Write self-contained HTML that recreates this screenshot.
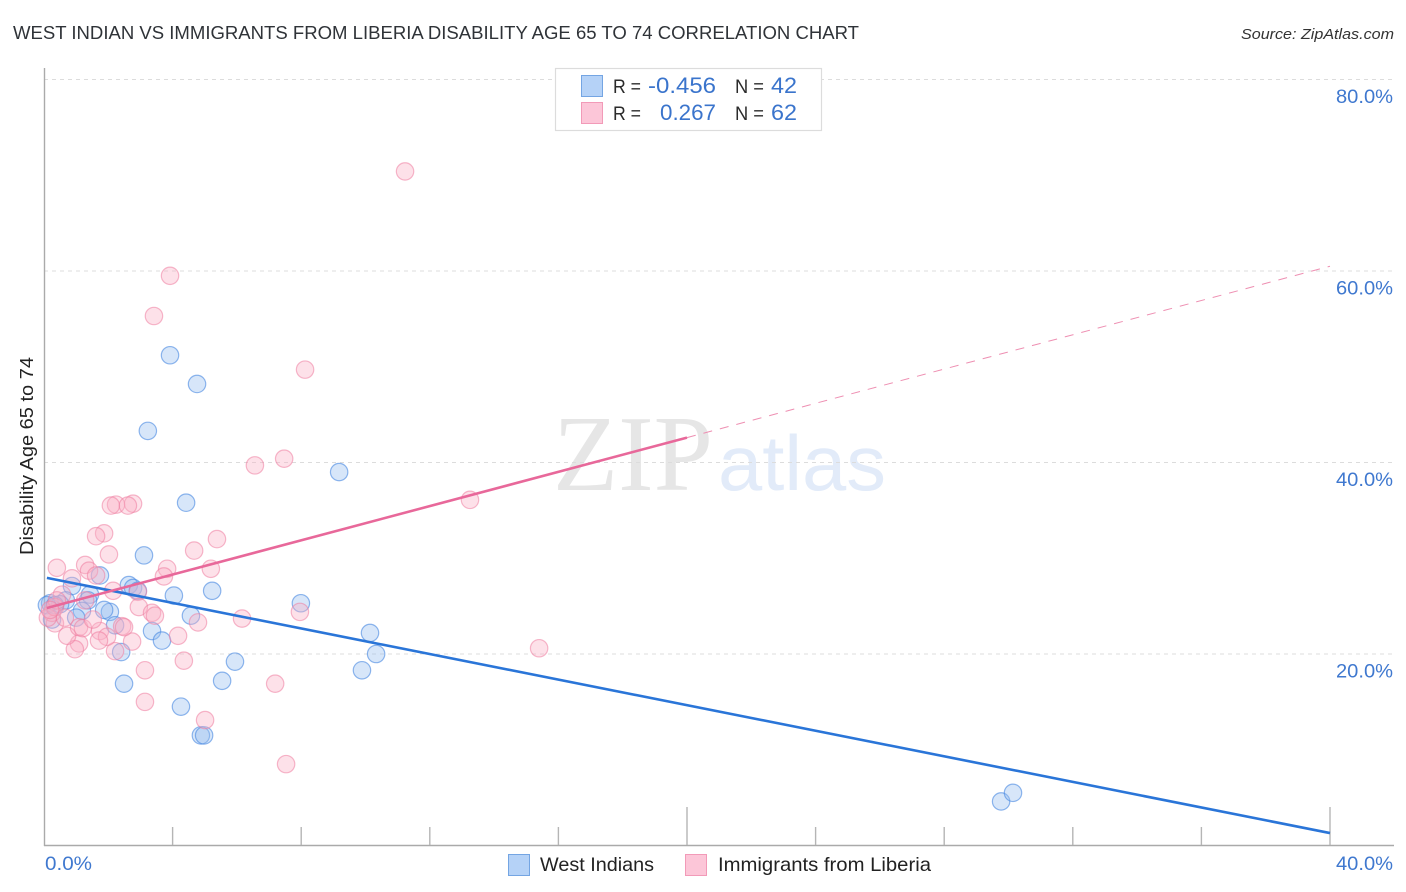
<!DOCTYPE html>
<html lang="en">
<head>
<meta charset="utf-8">
<title>West Indian vs Immigrants from Liberia Disability Age 65 to 74 Correlation Chart</title>
<style>
html,body{margin:0;padding:0;background:#fff;width:1406px;height:892px;overflow:hidden}
svg{display:block;font-family:"Liberation Sans",sans-serif}
</style>
</head>
<body>
<svg id="chart" xmlns="http://www.w3.org/2000/svg" width="1406" height="892" viewBox="0 0 1406 892">
  <text x="553" y="490" font-family="Liberation Serif, serif" font-size="108" fill="#e6e6e6" textLength="160" lengthAdjust="spacingAndGlyphs">ZIP</text>
  <text x="718" y="490" font-size="78" fill="#e2ebf9" textLength="168" lengthAdjust="spacingAndGlyphs">atlas</text>
  <g id="grid"></g>
  <g id="axes"></g>
  <g id="blue-points"></g>
  <g id="pink-points"></g>
  <g id="trends"></g>
  <g id="labels"></g>

  <text x="13" y="39" font-size="18.5" fill="#2f3338" textLength="846" lengthAdjust="spacingAndGlyphs">WEST INDIAN VS IMMIGRANTS FROM LIBERIA DISABILITY AGE 65 TO 74 CORRELATION CHART</text>
  <text x="1241" y="39" font-size="15" font-style="italic" fill="#333" textLength="153" lengthAdjust="spacingAndGlyphs">Source: ZipAtlas.com</text>
  <text transform="translate(33 555) rotate(-90)" font-size="18" fill="#222" textLength="198" lengthAdjust="spacingAndGlyphs">Disability Age 65 to 74</text>

  <g>
    <rect x="555.5" y="68.5" width="266" height="62" fill="#fff" stroke="#dcdcdc" stroke-width="1.2"/>
    <rect x="581.5" y="75.5" width="21" height="21" fill="#b5d2f7" stroke="#74a5e3"/>
    <rect x="581.5" y="102.5" width="21" height="21" fill="#fcc6d8" stroke="#f29ab8"/>
    <text x="613" y="93" font-size="19" fill="#2b2b2b" textLength="28" lengthAdjust="spacingAndGlyphs">R =</text>
    <text x="648" y="93" font-size="22" fill="#3a74cc" textLength="68" lengthAdjust="spacingAndGlyphs">-0.456</text>
    <text x="735" y="93" font-size="19" fill="#2b2b2b" textLength="29" lengthAdjust="spacingAndGlyphs">N =</text>
    <text x="771" y="93" font-size="22" fill="#3a74cc" textLength="26" lengthAdjust="spacingAndGlyphs">42</text>
    <text x="613" y="120" font-size="19" fill="#2b2b2b" textLength="28" lengthAdjust="spacingAndGlyphs">R =</text>
    <text x="660" y="120" font-size="22" fill="#3a74cc" textLength="56" lengthAdjust="spacingAndGlyphs">0.267</text>
    <text x="735" y="120" font-size="19" fill="#2b2b2b" textLength="29" lengthAdjust="spacingAndGlyphs">N =</text>
    <text x="771" y="120" font-size="22" fill="#3a74cc" textLength="26" lengthAdjust="spacingAndGlyphs">62</text>
  </g>

  <g>
    <g>
      <rect x="508.5" y="854.5" width="21" height="21" fill="#b5d2f7" stroke="#74a5e3"/>
      <text x="540" y="871" font-size="19.5" fill="#222" textLength="114" lengthAdjust="spacingAndGlyphs">West Indians</text>
    </g>
    <g>
      <rect x="685.5" y="854.5" width="21" height="21" fill="#fcc6d8" stroke="#f29ab8"/>
      <text x="718" y="871" font-size="19.5" fill="#222" textLength="213" lengthAdjust="spacingAndGlyphs">Immigrants from Liberia</text>
    </g>
  </g>
</svg>
<script>
const xTickValues = [0, 4, 8, 12, 16, 20, 24, 28, 32, 36, 40];
const xLongTicks = [20, 40];
const xEdgeLabels = [0, 40];
const yTickValues = [20, 40, 60, 80];

const blueX = [3.92,4.76,3.23,9.18,4.42,3.11,1.74,0.87,2.64,2.77,2.92,5.23,4.04,7.99,1.43,1.37,0.68,0.19,0.50,2.05,1.87,1.18,1.00,4.57,2.21,3.36,10.14,3.67,10.33,2.40,5.94,9.89,5.54,2.49,4.26,4.88,4.98,29.77,30.14,0.09,0.25,0.34];
const blueY = [51.2,48.2,43.3,39.0,35.8,30.3,28.2,27.1,27.2,26.9,26.6,26.6,26.1,25.3,26.2,25.6,25.6,25.3,25.2,24.4,24.6,24.5,23.8,24.0,23.0,22.4,22.2,21.4,20.0,20.2,19.2,18.3,17.2,16.9,14.5,11.5,11.5,4.6,5.5,25.1,23.6,25.1];

const pinkX = [11.23,3.92,3.42,8.12,7.47,6.56,13.25,2.77,2.24,2.08,2.61,1.87,1.62,5.38,4.67,2.02,0.40,1.28,3.83,1.40,1.62,3.73,5.19,0.87,2.15,2.92,2.95,3.36,3.45,4.79,6.16,7.96,4.17,4.35,3.14,7.19,3.14,5.01,7.53,2.74,2.43,2.49,2.21,1.74,1.96,1.71,1.09,0.96,0.72,1.09,1.21,1.52,0.34,15.40,0.56,0.25,0.12,0.34,0.65,0.40,0.19,1.28];
const pinkY = [70.4,59.5,55.3,49.7,40.4,39.7,36.1,35.7,35.6,35.5,35.5,32.6,32.3,32.0,30.8,30.4,29.0,29.3,28.9,28.7,28.2,28.1,28.9,27.9,26.6,26.5,24.9,24.3,24.0,23.3,23.7,24.4,21.9,19.3,18.3,16.9,15.0,13.1,8.5,21.3,22.9,22.8,20.3,22.4,21.8,21.4,21.1,20.5,21.9,22.8,22.7,23.6,23.2,20.6,26.2,24.3,23.8,24.9,23.8,25.6,24.6,25.6];

const blueTrendX = [0.09, 40];
const blueTrendY = [27.95, 1.3];
const pinkSolidX = [0.09, 20];
const pinkSolidY = [24.8, 42.6];
const pinkDashX = [20, 40];
const pinkDashY = [42.6, 60.5];

const SVG_NS = 'http://www.w3.org/2000/svg';
const xScale = v => 44 + v * 32.15;
const yScale = v => 845.5 - v * 9.575;
const percent = v => v.toFixed(1) + '%';

function make(tag, attrs, parent) {
  const el = document.createElementNS(SVG_NS, tag);
  for (const key in attrs) el.setAttribute(key, attrs[key]);
  parent.appendChild(el);
  return el;
}

const gridLayer = document.getElementById('grid');
const axesLayer = document.getElementById('axes');
const blueLayer = document.getElementById('blue-points');
const pinkLayer = document.getElementById('pink-points');
const trendLayer = document.getElementById('trends');
const labelLayer = document.getElementById('labels');

yTickValues.forEach(v => {
  const line = make('line', {x1: 44, x2: 1394, y1: yScale(v), y2: yScale(v), stroke: '#dcdcdc', 'stroke-width': 1, 'stroke-dasharray': '4 4'}, gridLayer);
  
  
  const label = make('text', {x: 1393, y: yScale(v) + 23.5, 'text-anchor': 'end', 'font-size': 19.5, fill: '#3f78cf', textLength: 57, lengthAdjust: 'spacingAndGlyphs'}, labelLayer);
  
  
  label.textContent = percent(v);
});

const yAxis = make('line', {x1: 44.5, x2: 44.5, y1: 68, y2: 846, stroke: '#aaa', 'stroke-width': 1.4}, axesLayer);


const xAxis = make('line', {x1: 44, x2: 1394, y1: 845.5, y2: 845.5, stroke: '#aaa', 'stroke-width': 1.4}, axesLayer);



xTickValues.slice(1).forEach(v => {
  const top = xLongTicks.includes(v) ? 807 : 827;
  const tick = make('line', {x1: xScale(v), x2: xScale(v), y1: top, y2: 845, stroke: '#b5b5b5', 'stroke-width': 1.4}, axesLayer);
  
  
});

xEdgeLabels.forEach(v => {
  const atStart = v === xEdgeLabels[0];
  const label = make('text', {x: atStart ? xScale(v) + 1 : xScale(v) + 63, y: 870, 'text-anchor': atStart ? 'start' : 'end', 'font-size': 19.5, fill: '#3f78cf', textLength: atStart ? 47 : 57, lengthAdjust: 'spacingAndGlyphs'}, labelLayer);
  
  
  label.textContent = percent(v);
});

blueX.forEach((v, i) => {
  const dot = make('circle', {cx: xScale(v), cy: yScale(blueY[i]), r: 8.7, fill: 'rgba(150,190,240,0.38)', stroke: 'rgba(70,135,225,0.6)', 'stroke-width': 1.2}, blueLayer);
  
  
});

pinkX.forEach((v, i) => {
  const dot = make('circle', {cx: xScale(v), cy: yScale(pinkY[i]), r: 8.7, fill: 'rgba(250,175,198,0.38)', stroke: 'rgba(238,125,160,0.55)', 'stroke-width': 1.2}, pinkLayer);
  
  
});

const blueTrend = make('line', {x1: xScale(blueTrendX[0]), y1: yScale(blueTrendY[0]), x2: xScale(blueTrendX[1]), y2: yScale(blueTrendY[1]), stroke: '#2a75d8', 'stroke-width': 2.6}, trendLayer);


const pinkSolid = make('line', {x1: xScale(pinkSolidX[0]), y1: yScale(pinkSolidY[0]), x2: xScale(pinkSolidX[1]), y2: yScale(pinkSolidY[1]), stroke: '#e8689a', 'stroke-width': 2.6}, trendLayer);


const pinkDash = make('line', {x1: xScale(pinkDashX[0]), y1: yScale(pinkDashY[0]), x2: xScale(pinkDashX[1]), y2: yScale(pinkDashY[1]), stroke: '#ee8fb2', 'stroke-width': 1, 'stroke-dasharray': '9 8'}, trendLayer);


</script>
</body>
</html>
